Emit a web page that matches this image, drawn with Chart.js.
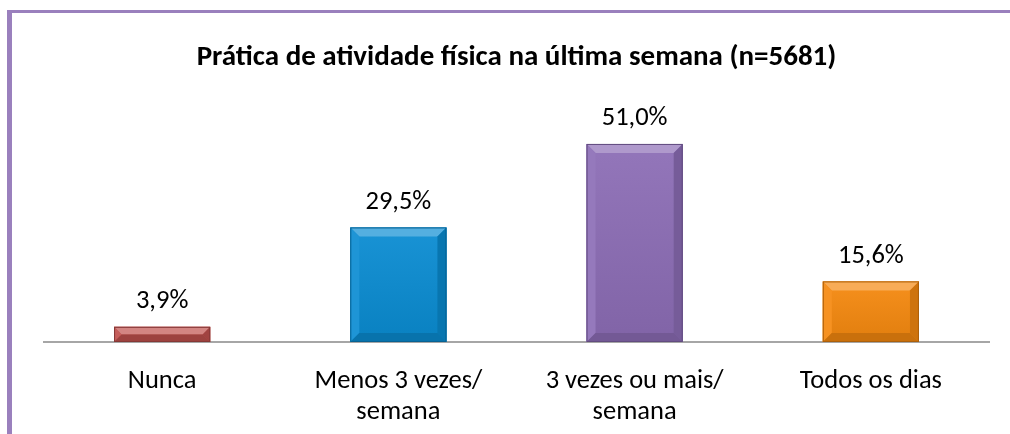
<!DOCTYPE html>
<html>
<head>
<meta charset="utf-8">
<script src="https://cdn.jsdelivr.net/npm/chart.js@4.4.1/dist/chart.umd.min.js"></script>
<style>
  html,body{margin:0;padding:0;background:#fff;}
  #wrap{position:relative;width:1010px;height:434px;overflow:hidden;}
  #frame{position:absolute;left:7px;top:10px;width:1100px;height:500px;border-left:5px solid #9a80bd;border-top:3px solid #9a80bd;box-sizing:border-box;}
  canvas{position:absolute;left:0;top:0;}
</style>
</head>
<body>
<div id="wrap">
  <div id="frame"></div>
  <canvas id="c" width="1010" height="434"></canvas>
</div>
<script>
const titleText = "Prática de atividade física na última semana (n=5681)";
const categories = [["Nunca"], ["Menos 3 vezes/", "semana"], ["3 vezes ou mais/", "semana"], ["Todos os dias"]];
const values = [3.9, 29.5, 51.0, 15.6];
const valueLabels = ["3,9%", "29,5%", "51,0%", "15,6%"];
const barColors = ["#c0504d", "#0a8cd2", "#8c6db6", "#f5890f"];
const FONT = "Carlito, Lato, sans-serif";

function shade(hex, amt) {
  const n = parseInt(hex.slice(1), 16);
  let r = (n >> 16) & 255, g = (n >> 8) & 255, b = n & 255;
  const f = v => Math.max(0, Math.min(255, Math.round(amt >= 0 ? v + (255 - v) * amt : v * (1 + amt))));
  return `rgb(${f(r)},${f(g)},${f(b)})`;
}

const bevelPlugin = {
  id: 'bevel',
  afterDatasetsDraw(chart) {
    const ctx = chart.ctx;
    const meta = chart.getDatasetMeta(0);
    meta.data.forEach((bar, i) => {
      const x0 = bar.x - bar.width / 2, x1 = bar.x + bar.width / 2;
      const y0 = Math.min(bar.y, bar.base), y1 = Math.max(bar.y, bar.base);
      const c = barColors[i];
      const d = Math.min(9, (y1 - y0) / 2);
      ctx.save();
      const g = ctx.createLinearGradient(0, y0, 0, y1);
      g.addColorStop(0, shade(c, 0.06));
      g.addColorStop(1, shade(c, -0.08));
      ctx.fillStyle = g;
      ctx.fillRect(x0, y0, x1 - x0, y1 - y0);
      ctx.fillStyle = shade(c, 0.3);
      ctx.beginPath(); ctx.moveTo(x0, y0); ctx.lineTo(x1, y0); ctx.lineTo(x1 - d, y0 + d); ctx.lineTo(x0 + d, y0 + d); ctx.closePath(); ctx.fill();
      ctx.fillStyle = shade(c, 0.08);
      ctx.beginPath(); ctx.moveTo(x0, y0); ctx.lineTo(x0 + d, y0 + d); ctx.lineTo(x0 + d, y1 - d); ctx.lineTo(x0, y1); ctx.closePath(); ctx.fill();
      ctx.fillStyle = shade(c, -0.16);
      ctx.beginPath(); ctx.moveTo(x1, y0); ctx.lineTo(x1 - d, y0 + d); ctx.lineTo(x1 - d, y1 - d); ctx.lineTo(x1, y1); ctx.closePath(); ctx.fill();
      ctx.fillStyle = shade(c, -0.18);
      ctx.beginPath(); ctx.moveTo(x0, y1); ctx.lineTo(x0 + d, y1 - d); ctx.lineTo(x1 - d, y1 - d); ctx.lineTo(x1, y1); ctx.closePath(); ctx.fill();
      ctx.strokeStyle = shade(c, -0.3);
      ctx.lineWidth = 1;
      ctx.strokeRect(x0 + 0.5, y0 + 0.5, x1 - x0 - 1, y1 - y0 - 1);
      ctx.restore();
      ctx.save();
      ctx.fillStyle = '#000';
      ctx.font = '26.5px ' + FONT;
      ctx.textAlign = 'center';
      ctx.textBaseline = 'alphabetic';
      ctx.fillText(valueLabels[i], bar.x, y0 - 18.5);
      ctx.restore();
    });
  },
  afterDraw(chart) {
    const ctx = chart.ctx;
    ctx.save();
    ctx.fillStyle = '#000';
    ctx.font = 'bold 29px ' + FONT;
    ctx.textAlign = 'center';
    ctx.textBaseline = 'alphabetic';
    ctx.fillText(titleText, 516.5, 65);
    ctx.restore();
  }
};

new Chart(document.getElementById('c'), {
  type: 'bar',
  data: {
    labels: categories,
    datasets: [{
      data: values,
      backgroundColor: barColors,
      borderWidth: 0,
      barPercentage: 1,
      categoryPercentage: 0.407
    }]
  },
  options: {
    responsive: false,
    animation: false,
    layout: { padding: { left: 44, right: 21, top: 109, bottom: 0 } },
    plugins: {
      legend: { display: false },
      tooltip: { enabled: false },
      title: { display: false }
    },
    scales: {
      x: {
        grid: { display: false },
        border: { display: true, color: '#a6a6a6', width: 2 },
        ticks: { color: '#000', font: { family: FONT, size: 26.5, lineHeight: 1.2 }, padding: 15, maxRotation: 0, autoSkip: false },
        afterFit(scale) { scale.height = 92; }
      },
      y: {
        display: false,
        min: 0,
        max: 60
      }
    }
  },
  plugins: [bevelPlugin]
});
</script>
</body>
</html>
